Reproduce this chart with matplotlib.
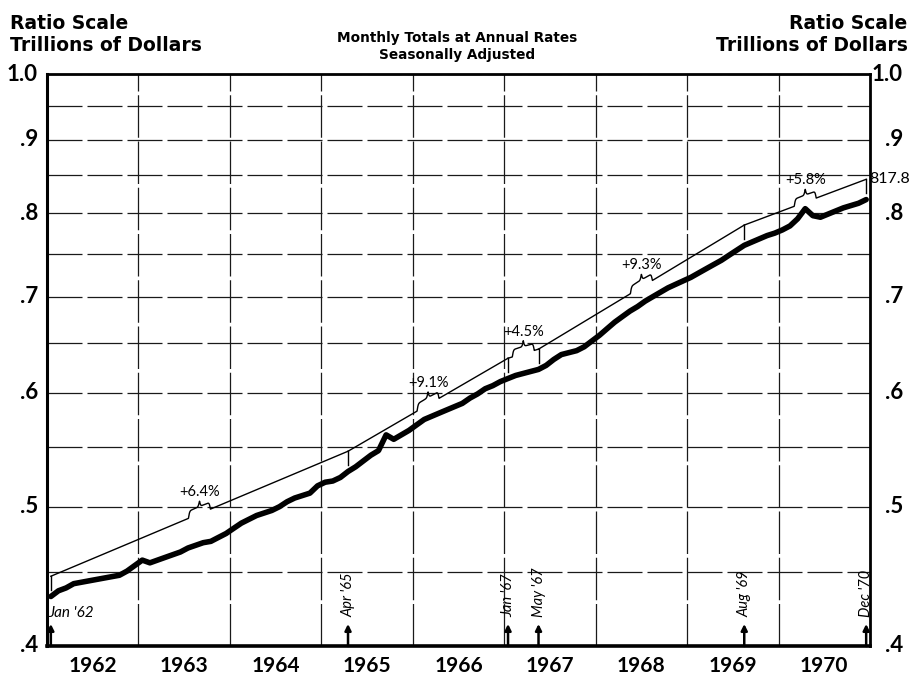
import numpy as np
import matplotlib.pyplot as plt
from matplotlib.ticker import FixedLocator, NullLocator, NullFormatter

plt.rcParams['font.family'] = ['Lato', 'DejaVu Sans']

# monthly totals at annual rates, trillions of dollars, Jan 1962 .. Dec 1970
income_62 = [0.433, 0.437, 0.439, 0.442, 0.443, 0.444, 0.445, 0.446, 0.447, 0.448, 0.451, 0.455]
income_63 = [0.459, 0.457, 0.459, 0.461, 0.463, 0.465, 0.468, 0.470, 0.472, 0.473, 0.476, 0.479]
income_64 = [0.483, 0.487, 0.490, 0.493, 0.495, 0.497, 0.500, 0.504, 0.507, 0.509, 0.511, 0.517]
income_65 = [0.520, 0.521, 0.524, 0.529, 0.533, 0.538, 0.543, 0.547, 0.561, 0.557, 0.561, 0.565]
income_66 = [0.570, 0.575, 0.578, 0.581, 0.584, 0.587, 0.590, 0.595, 0.599, 0.604, 0.607, 0.611]
income_67 = [0.614, 0.617, 0.619, 0.621, 0.623, 0.627, 0.633, 0.638, 0.640, 0.642, 0.646, 0.652]
income_68 = [0.658, 0.665, 0.672, 0.678, 0.684, 0.689, 0.695, 0.700, 0.705, 0.710, 0.714, 0.718]
income_69 = [0.722, 0.727, 0.732, 0.737, 0.742, 0.748, 0.754, 0.760, 0.764, 0.768, 0.772, 0.775]
income_70 = [0.779, 0.784, 0.793, 0.806, 0.797, 0.795, 0.799, 0.803, 0.807, 0.810, 0.813, 0.8178]

income = np.array(income_62 + income_63 + income_64 + income_65 + income_66
                  + income_67 + income_68 + income_69 + income_70)

# turning points (month index from Jan 1962) and growth rates between them
break_months = [0, 39, 60, 64, 91, 107]
break_labels = ["Jan '62", "Apr '65", "Jan '67", "May '67", "Aug '69", "Dec '70"]
rate_labels = ["+6.4%", "+9.1%", "+4.5%", "+9.3%", "+5.8%"]
last_label = "817.8"

years = [1962, 1963, 1964, 1965, 1966, 1967, 1968, 1969, 1970]
ytick_vals = [0.4, 0.5, 0.6, 0.7, 0.8, 0.9, 1.0]
ytick_labels = ['.4', '.5', '.6', '.7', '.8', '.9', '1.0']
grid_vals = [0.4, 0.45, 0.5, 0.55, 0.6, 0.65, 0.7, 0.75, 0.8, 0.85, 0.9, 0.95, 1.0]

t = 1962 + (np.arange(len(income)) + 0.5) / 12.0

fig = plt.figure(figsize=(9.15, 6.81), dpi=100)
ax = fig.add_axes([0.0514, 0.0514, 0.8994, 0.8399])
ax.set_yscale('log')
ax.set_xlim(1962, 1971)
ax.set_ylim(0.4, 1.0)

# log units per pixel, for the little brace and tick decorations
ax_h = 0.8399 * 6.81 * 100
lpp = np.log(1.0 / 0.4) / ax_h

# grid
ax.yaxis.set_major_locator(FixedLocator(grid_vals))
ax.yaxis.set_minor_locator(NullLocator())
ax.yaxis.set_major_formatter(NullFormatter())
ax.yaxis.set_minor_formatter(NullFormatter())
ax.xaxis.set_major_locator(FixedLocator([y + 0.5 for y in years]))
ax.xaxis.set_minor_locator(FixedLocator(years[1:]))
ax.set_xticklabels([str(y) for y in years])
ax.tick_params(which='both', length=0)
ax.tick_params(axis='x', pad=7, labelsize=15)
for lbl in ax.get_xticklabels():
    lbl.set_fontweight('bold')
ax.grid(axis='y', which='major', color='#1a1a1a', lw=0.9, ls=(0, (28, 4)))
ax.grid(axis='x', which='minor', color='#1a1a1a', lw=0.9, ls=(0, (34, 3)))
ax.grid(axis='x', which='major', visible=False)

for side, w in [('top', 2.0), ('left', 2.2), ('bottom', 2.6), ('right', 2.0)]:
    ax.spines[side].set_linewidth(w)
    ax.spines[side].set_color('black')

# y labels on both sides
ytr = ax.get_yaxis_transform()
for v, s in zip(ytick_vals, ytick_labels):
    ax.text(-0.011, v, s, transform=ytr, ha='right', va='center',
            fontsize=16, fontweight='bold', clip_on=False)
    ax.text(1.04, v, s, transform=ytr, ha='right', va='center',
            fontsize=16, fontweight='bold', clip_on=False)

# data line
ax.plot(t, income, color='black', lw=4.0, solid_capstyle='round', zorder=5)

# trend segments, drawn offset above the data
offset = 1.033
bh = 13 * lpp   # brace height
hw = 0.12       # brace half width, years
beta = 160.0


def brace(tt, tc):
    d = hw - np.abs(tt - tc)
    b = 1.1 / (1 + np.exp(-beta * d)) + 0.9 / (1 + np.exp(-beta * (d - hw))) - 0.55
    return np.where(d > 0, b, 0.0) * bh


for i, lab in enumerate(rate_labels):
    m0, m1 = break_months[i], break_months[i + 1]
    t0, t1 = t[m0], t[m1]
    v0, v1 = income[m0] * offset, income[m1] * offset
    tt = np.linspace(t0, t1, 1500)
    base = v0 * (v1 / v0) ** ((tt - t0) / (t1 - t0))
    tc = (t0 + t1) / 2
    yy = base * np.exp(brace(tt, tc))
    ax.plot(tt, yy, color='black', lw=1.0, zorder=4)
    vc = v0 * (v1 / v0) ** 0.5
    ax.text(tc, vc * np.exp(bh + 2 * lpp), lab, ha='center', va='bottom',
            fontsize=10.5, zorder=6)

# ticks at turning points
for m in break_months:
    v = income[m] * offset
    ax.plot([t[m], t[m]], [v, v * np.exp(-14 * lpp)], color='black', lw=1.0, zorder=4)

ax.text(t[-1] + 0.03, income[-1] * offset, last_label, ha='left', va='center',
        fontsize=11.5, clip_on=False, zorder=6)

# arrows and dates along the bottom
for m, lab in zip(break_months, break_labels):
    ax.annotate('', xy=(t[m], 0.4 * np.exp(22 * lpp)), xytext=(t[m], 0.4),
                arrowprops=dict(arrowstyle='-|>', color='black', lw=1.8,
                                mutation_scale=9, shrinkA=0, shrinkB=0),
                annotation_clip=False)
    if m == 0:
        ax.text(t[m] - 0.03, 0.4 * np.exp(33 * lpp), lab, ha='left', va='center',
                fontsize=11, style='italic')
    else:
        ax.text(t[m], 0.4 * np.exp(29 * lpp), lab, ha='center', va='bottom',
                rotation=90, fontsize=10.5, style='italic')

# headings
head = ['DejaVu Sans']
fig.text(0.011, 0.979, 'Ratio Scale\nTrillions of Dollars', ha='left', va='top',
         fontsize=13.5, fontweight='bold', family=head, linespacing=1.2)
fig.text(0.992, 0.979, 'Ratio Scale\nTrillions of Dollars', ha='right', va='top',
         fontsize=13.5, fontweight='bold', family=head, multialignment='right',
         linespacing=1.2)
fig.text(0.5, 0.955, 'Monthly Totals at Annual Rates\nSeasonally Adjusted',
         ha='center', va='top', fontsize=9.8, fontweight='bold', family=head,
         linespacing=1.35)

fig.savefig('out.png', dpi=100)
